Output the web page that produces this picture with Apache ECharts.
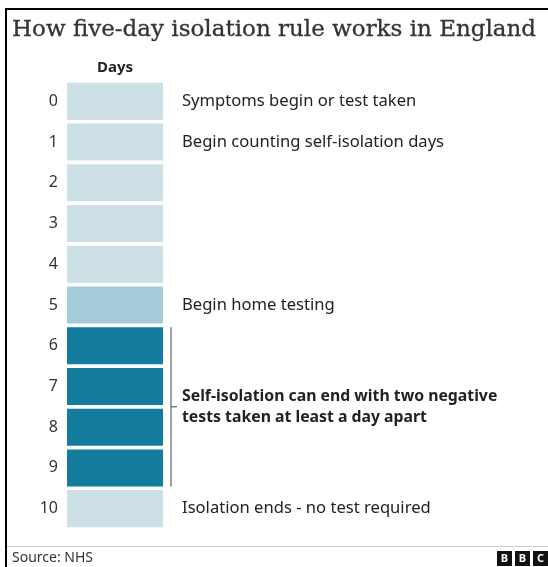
<!DOCTYPE html>
<html>
<head>
<meta charset="utf-8">
<script src="https://cdn.jsdelivr.net/npm/echarts@6/dist/echarts.min.js"></script>
<style>
  html, body { margin: 0; padding: 0; background: #fff; }
  #main { width: 548px; height: 567px; }
</style>
</head>
<body>
<div id="main"></div>
<script>
// days since symptoms / test, one box per day
var days = ['0', '1', '2', '3', '4', '5', '6', '7', '8', '9', '10'];
var phase = ['wait', 'wait', 'wait', 'wait', 'wait', 'test', 'end', 'end', 'end', 'end', 'wait'];
var dayLength = [1, 1, 1, 1, 1, 1, 1, 1, 1, 1, 1];
var notes = [
  'Symptoms begin or test taken',
  'Begin counting self-isolation days',
  '', '', '',
  'Begin home testing',
  '', '', '', '',
  'Isolation ends - no test required'
];
// bracket over days 6..9
var bracketFrom = [6];
var bracketTo = [9];
var bracketText = ['Self-isolation can end with two negative\ntests taken at least a day apart'];

var phaseColor = { wait: '#cde0e5', test: '#a3cbd8', end: '#147c9c' };
var sans = '"Noto Sans", "Open Sans", sans-serif';

var chartDom = document.getElementById('main');
var myChart = echarts.init(chartDom);
var option;

var barData = dayLength.map(function (v, i) {
  return { value: v, itemStyle: { color: phaseColor[phase[i]] } };
});

option = {
  animation: false,
  backgroundColor: '#fff',
  title: {
    text: 'How five-day isolation rule works in England',
    left: 7,
    top: 14,
    textStyle: {
      fontFamily: '"DejaVu Serif", serif',
      fontSize: 23,
      fontWeight: 'normal',
      color: '#333',
      textBorderColor: '#333',
      textBorderWidth: 0.3
    }
  },
  grid: {
    left: 67,
    right: 385,
    top: 81,
    bottom: 38
  },
  xAxis: {
    type: 'value',
    position: 'top',
    min: 0,
    max: 1,
    name: 'Days',
    nameLocation: 'middle',
    nameGap: 6,
    nameTextStyle: { fontFamily: sans, fontSize: 15, fontWeight: 'bold', color: '#222' },
    axisLine: { show: false },
    axisTick: { show: false },
    axisLabel: { show: false },
    splitLine: { show: false }
  },
  yAxis: {
    type: 'category',
    inverse: true,
    data: days,
    axisLine: { show: false },
    axisTick: { show: false },
    axisLabel: { margin: 9, fontFamily: sans, fontSize: 16, color: '#333' },
    splitLine: { show: false }
  },
  series: [
    {
      type: 'bar',
      data: barData,
      barCategoryGap: '9%',
      label: {
        show: true,
        position: 'right',
        distance: 19,
        fontFamily: sans,
        fontSize: 16.6,
        color: '#222',
        formatter: function (p) { return notes[p.dataIndex]; }
      }
    },
    {
      type: 'custom',
      encode: { x: 0, y: 1 },
      data: bracketFrom.map(function (f, i) { return [1, f, bracketTo[i]]; }),
      renderItem: function (params, api) {
        var band = api.size([0, 1])[1];
        var half = band * 0.455;
        var a = api.coord([1, api.value(1)]);
        var b = api.coord([1, api.value(2)]);
        var x = a[0] + 8;
        var y0 = a[1] - half;
        var y1 = b[1] + half;
        var ym = (y0 + y1) / 2;
        var ls = { stroke: '#444', lineWidth: 1 };
        return {
          type: 'group',
          children: [
            { type: 'line', shape: { x1: x, y1: y0, x2: x, y2: y1 }, style: ls },
            { type: 'line', shape: { x1: x, y1: ym, x2: x + 6, y2: ym }, style: ls },
            {
              type: 'text',
              x: x + 11,
              y: ym,
              style: {
                text: bracketText[params.dataIndex],
                fontFamily: sans,
                fontSize: 15.8,
                fontWeight: 'bold',
                lineHeight: 21,
                fill: '#222',
                verticalAlign: 'middle'
              }
            }
          ]
        };
      }
    }
  ],
  graphic: [
    { type: 'line', shape: { x1: 5, y1: 9, x2: 548, y2: 9 }, style: { stroke: '#000', lineWidth: 2 } },
    { type: 'line', shape: { x1: 6, y1: 8, x2: 6, y2: 567 }, style: { stroke: '#000', lineWidth: 2 } },
    { type: 'line', shape: { x1: 7, y1: 546.5, x2: 548, y2: 546.5 }, style: { stroke: '#ccc', lineWidth: 1 } },
    { type: 'text', left: 12, top: 551, style: { text: 'Source: NHS', fontFamily: sans, fontSize: 14, fill: '#333' } },
    {
      type: 'group',
      left: 497,
      top: 551,
      children: ['B', 'B', 'C'].map(function (ch, i) {
        return {
          type: 'group',
          x: i * 18,
          children: [
            { type: 'rect', shape: { x: 0, y: 0, width: 15, height: 15 }, style: { fill: '#111' } },
            { type: 'text', x: 7.5, y: 8, style: { text: ch, fill: '#fff', fontFamily: sans, fontSize: 11, fontWeight: 'bold', align: 'center', verticalAlign: 'middle' } }
          ]
        };
      })
    }
  ]
};

myChart.setOption(option);
</script>
</body>
</html>
